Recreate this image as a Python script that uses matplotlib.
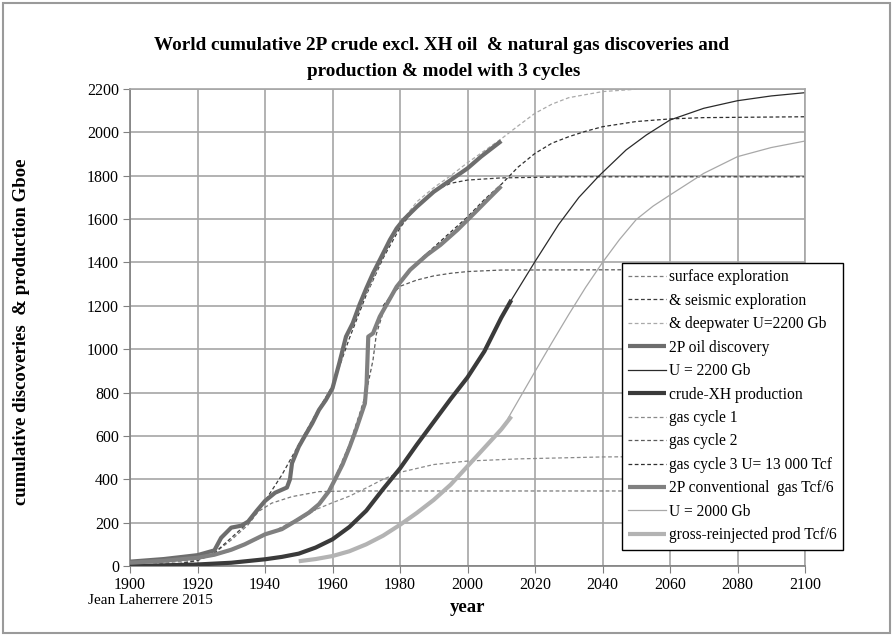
import matplotlib.pyplot as plt
from matplotlib.patches import Rectangle

# 2P oil discovery (Gboe, cumulative)
oil_disc_years = [1900, 1910, 1920, 1925, 1927, 1930, 1933, 1935, 1937.5, 1940, 1943, 1946.5, 1947.4, 1948,
                  1950, 1952, 1954, 1956, 1958, 1960, 1962, 1964, 1966, 1968, 1970, 1972, 1974, 1977, 1979,
                  1981, 1985, 1990, 1995, 2000, 2004, 2010]
oil_disc = [20, 32, 50, 72, 130, 177, 186, 205, 254, 300, 338, 362, 400, 474,
            550, 605, 658, 720, 765, 820, 935, 1058, 1120, 1205, 1280, 1350, 1411, 1504, 1557,
            1596, 1657, 1726, 1780, 1834, 1888, 1960]

# 2P conventional gas Tcf/6
gas_disc_years = [1900, 1910, 1920, 1925, 1930, 1934, 1940, 1945, 1949, 1953, 1956, 1959, 1961, 1963,
                  1965, 1967, 1969.6, 1970.1, 1970.6, 1972, 1974, 1976, 1979, 1983, 1988, 1992, 1997,
                  2002, 2006, 2010]
gas_disc = [15, 24, 38, 52, 75, 100, 146, 170, 207, 246, 285, 346, 407, 469,
            546, 630, 750, 840, 1058, 1073, 1150, 1205, 1288, 1366, 1435, 1481, 1550,
            1627, 1690, 1752]

# crude-XH production
prod_years = [1900, 1910, 1920, 1930, 1940, 1945, 1950, 1955, 1960, 1965, 1970, 1975, 1980, 1985,
              1990, 1995, 2000, 2005, 2010, 2013]
prod = [0, 3, 7, 15, 31, 42, 57, 85, 123, 180, 255, 355, 450, 560,
        665, 770, 870, 990, 1145, 1227]

# model U = 2200 Gb
oil_model_years = [2010, 2013, 2020, 2027, 2033, 2039, 2047, 2053, 2060, 2070, 2080, 2090, 2100]
oil_model = [1145, 1227, 1404, 1575, 1700, 1800, 1919, 1988, 2057, 2111, 2146, 2168, 2183]

# gross-reinjected gas production Tcf/6
gasprod_years = [1950, 1955, 1960, 1965, 1970, 1975, 1980, 1985, 1990, 1995, 2000, 2005, 2010, 2013]
gasprod = [22, 32, 46, 68, 100, 140, 190, 245, 305, 375, 460, 545, 630, 690]

# model U = 2000 Gb
gas_model_years = [2012, 2020, 2025, 2030, 2035, 2040, 2045, 2050, 2055, 2060, 2070, 2080, 2090, 2100]
gas_model = [681, 897, 1030, 1160, 1285, 1400, 1505, 1598, 1660, 1711, 1811, 1888, 1930, 1960]

# oil cycles (cumulative)
surf_years = [1905, 1915, 1920, 1925, 1930, 1935, 1938, 1942, 1948, 1956, 1965, 1980, 2100]
surf = [2, 12, 28, 60, 120, 190, 251, 290, 320, 343, 346, 346, 346]

seis_years = [1905, 1915, 1920, 1925, 1930, 1935, 1940, 1945, 1950, 1955, 1960, 1965, 1970, 1975,
              1980, 1985, 1990, 1995, 2000, 2010, 2030, 2100]
seis = [2, 12, 25, 60, 130, 200, 300, 420, 560, 700, 830, 1050, 1250, 1420,
        1560, 1660, 1730, 1765, 1780, 1790, 1795, 1795]

deep_years = [1970, 1975, 1980, 1985, 1990, 1995, 2000, 2005, 2010, 2015, 2020, 2025, 2030, 2040, 2050]
deep = [1255, 1430, 1580, 1680, 1745, 1800, 1860, 1915, 1970, 2030, 2088, 2130, 2160, 2188, 2199]

# gas cycles (cumulative)
gas1_years = [1905, 1920, 1930, 1940, 1950, 1955, 1960, 1965, 1970, 1975, 1980, 1990, 2000, 2015, 2040, 2100]
gas1 = [5, 30, 70, 140, 220, 260, 292, 322, 360, 400, 432, 468, 484, 494, 503, 510]

gas2_years = [1950, 1955, 1960, 1965, 1968, 1970, 1972, 1973, 1975, 1977, 1980, 1985, 1990, 1995,
              2000, 2010, 2100]
gas2 = [210, 260, 380, 560, 700, 800, 950, 1070, 1170, 1240, 1290, 1319, 1338, 1350,
        1358, 1365, 1368]

gas3_years = [1975, 1980, 1985, 1990, 1995, 2000, 2005, 2010, 2015, 2020, 2025, 2030, 2035, 2040,
              2050, 2060, 2070, 2100]
gas3 = [1200, 1300, 1400, 1470, 1540, 1610, 1690, 1760, 1840, 1903, 1950, 1980, 2005, 2026,
        2050, 2062, 2068, 2072]

year_ticks = list(range(1900, 2101, 20))
value_ticks = list(range(0, 2201, 200))


def main():
    serif = 'Liberation Serif'
    fig = plt.figure(figsize=(8.93, 6.36), dpi=100)
    ax = fig.add_axes([130 / 893, 1 - 566 / 636, 675 / 893, 477 / 636])

    dash = (0, (3, 2))
    thin = 0.9
    thick = 3.0

    ax.plot(surf_years, surf, color='#7a7a7a', lw=thin, ls=dash, label='surface exploration')
    ax.plot(seis_years, seis, color='#3c3c3c', lw=thin, ls=dash, label='& seismic exploration')
    ax.plot(deep_years, deep, color='#a9a9a9', lw=thin, ls=dash, label='& deepwater U=2200 Gb')
    ax.plot(oil_disc_years, oil_disc, color='#6d6d6d', lw=thick, label='2P oil discovery',
            zorder=4, solid_capstyle='butt')
    ax.plot(oil_model_years, oil_model, color='#2a2a2a', lw=thin, label='U = 2200 Gb')
    ax.plot(prod_years, prod, color='#3a3a3a', lw=thick, label='crude-XH production', zorder=4,
            solid_capstyle='butt')
    ax.plot(gas1_years, gas1, color='#8a8a8a', lw=thin, ls=dash, label='gas cycle 1')
    ax.plot(gas2_years, gas2, color='#5a5a5a', lw=thin, ls=dash, label='gas cycle 2')
    ax.plot(gas3_years, gas3, color='#2f2f2f', lw=thin, ls=dash, label='gas cycle 3 U= 13 000 Tcf')
    ax.plot(gas_disc_years, gas_disc, color='#808080', lw=thick, label='2P conventional  gas Tcf/6',
            zorder=4, solid_capstyle='butt')
    ax.plot(gas_model_years, gas_model, color='#a8a8a8', lw=thin, label='U = 2000 Gb')
    ax.plot(gasprod_years, gasprod, color='#b3b3b3', lw=thick, label='gross-reinjected prod Tcf/6',
            zorder=4, solid_capstyle='butt')

    ax.set_xlim(1900, 2100)
    ax.set_ylim(0, 2200)
    ax.set_xticks(year_ticks)
    ax.set_yticks(value_ticks)
    ax.grid(True, color='#a6a6a6', lw=1.2)
    ax.set_axisbelow(True)
    for s in ax.spines.values():
        s.set_color('#a6a6a6')
        s.set_linewidth(1.2)
    ax.spines['left'].set_color('#808080')
    ax.spines['bottom'].set_color('#808080')
    ax.tick_params(axis='both', length=5, color='#808080', labelsize=11.5, pad=3)
    for t in ax.get_xticklabels() + ax.get_yticklabels():
        t.set_fontfamily(serif)

    leg = fig.legend(loc='upper left', bbox_to_anchor=(622 / 893, 1 - 263 / 636),
                     bbox_transform=fig.transFigure, borderaxespad=0, fancybox=False,
                     edgecolor='black', framealpha=1, prop={'family': serif, 'size': 11.2},
                     handlelength=2.4, handletextpad=0.2, labelspacing=0.48, borderpad=0.4)
    leg.get_frame().set_linewidth(1.0)

    fig.text(441 / 893, 1 - 45 / 636, 'World cumulative 2P crude excl. XH oil  & natural gas discoveries and',
             ha='center', va='center', fontsize=13.8, fontweight='bold', family=serif)
    fig.text(444 / 893, 1 - 71 / 636, 'production & model with 3 cycles',
             ha='center', va='center', fontsize=13.8, fontweight='bold', family=serif)
    fig.text(22 / 893, 1 - 332 / 636, 'cumulative discoveries  & production Gboe', rotation=90,
             ha='center', va='center', fontsize=13.5, fontweight='bold', family=serif)
    fig.text(467 / 893, 1 - 607 / 636, 'year', ha='center', va='center', fontsize=13.5,
             fontweight='bold', family=serif)
    fig.text(88 / 893, 1 - 601 / 636, 'Jean Laherrere 2015', ha='left', va='center', fontsize=11,
             family=serif)

    fig.patches.append(Rectangle((0.003, 0.004), 0.994, 0.992, transform=fig.transFigure,
                                 fill=False, edgecolor='#9a9a9a', lw=1.5))

    fig.savefig('out.png', dpi=100)


if __name__ == "__main__":
    main()
